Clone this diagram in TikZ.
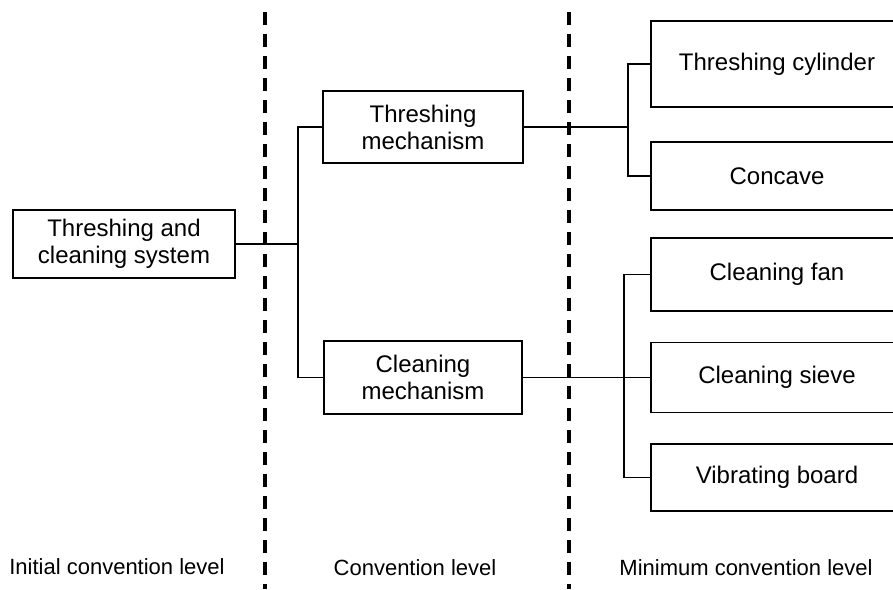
\documentclass[tikz,border=0pt]{standalone}
\usepackage{fontspec}
\setmainfont{Liberation Sans}
\usetikzlibrary{positioning}

\begin{document}
\begin{tikzpicture}[x=1pt, y=-1pt, line width=1.8pt, node distance=100pt, on grid]
      \tikzstyle{unit}=[draw, align=center, inner sep=0pt, font=\fontsize{24}{27}\selectfont]
      \tikzstyle{part}=[unit, minimum width=252pt]
      \tikzstyle{level}=[font=\fontsize{22}{26}\selectfont]
      \tikzstyle{divider}=[line width=3.5pt, dash pattern=on 13pt off 9pt]

      \useasboundingbox (0,0) rectangle (893,589);

      % Nodes
      \node[unit, minimum width=222pt, minimum height=68pt] (sys) at (124,244) {Threshing and\\cleaning system};
      \node[unit, minimum width=200pt, minimum height=72pt] (thr) at (423,127) {Threshing\\mechanism};
      \node[unit, minimum width=198pt, minimum height=73pt] (cln) [below=250.5pt of thr] {Cleaning\\mechanism};
      \node[part, minimum height=86pt] (cyl)   at (777,64) {Threshing cylinder};
      \node[part, minimum height=68pt] (conc)  [below=112pt of cyl] {Concave};
      \node[part, minimum height=73pt] (fan)   [below=98.5pt of conc] {Cleaning fan};
      \node[part, minimum height=70pt] (sieve) [below=103pt of fan] {Cleaning sieve};
      \node[part, minimum height=67pt] (vib)   [below=100pt of sieve] {Vibrating board};

      % Levels
      \node[level] (lv1) at (117,567) {Initial convention level};
      \node[level] (lv2) at (415,568) {Convention level};
      \node[level] (lv3) at (746,568) {Minimum convention level};

      \coordinate (d1top) at (265,12);
      \coordinate (d1bot) at (265,589);
      \coordinate (d2top) at (569,12);
      \coordinate (d2bot) at (569,589);
      \draw[divider] (d1top) -- (d1bot);
      \draw[divider] (d2top) -- (d2bot);

      % Edges
      \coordinate (j1) at (298,244);
      \coordinate (j2) at (628,127);
      \coordinate (j3) at (624,377.5);
      \draw (sys.east) -- (j1) |- (thr.west);
      \draw (j1) |- (cln.west);
      \draw (thr.east) -- (j2) |- (cyl.west);
      \draw (j2) |- (conc.west);
      \draw (cln.east) -- (sieve.west);
      \draw (fan.west) -| (j3) |- (vib.west);
    \end{tikzpicture}
\end{document}
